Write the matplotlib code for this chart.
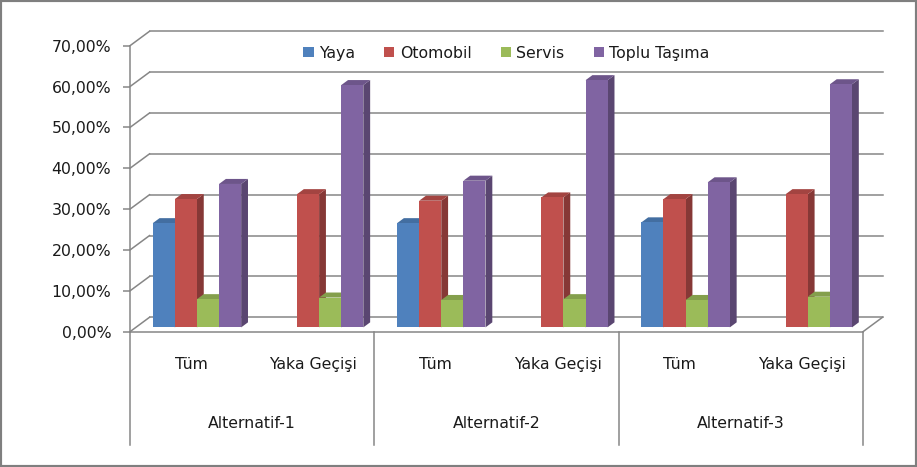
import matplotlib
matplotlib.use("Agg")
import matplotlib.pyplot as plt
from matplotlib.patches import Polygon, Rectangle
from matplotlib.transforms import blended_transform_factory
from matplotlib.colors import to_rgb

plt.rcParams['font.family'] = ['DejaVu Sans']

# ---- data ----
groups = ["Alternatif-1", "Alternatif-2", "Alternatif-3"]
subcats = ["Tüm", "Yaka Geçişi"]
series = ["Yaya", "Otomobil", "Servis", "Toplu Taşıma"]
yaya = [0.255, 0.0, 0.255, 0.0, 0.257, 0.0]
otomobil = [0.314, 0.326, 0.310, 0.318, 0.314, 0.326]
servis = [0.069, 0.073, 0.067, 0.069, 0.067, 0.075]
toplu = [0.351, 0.593, 0.359, 0.605, 0.355, 0.595]
yticks = [0.0, 0.1, 0.2, 0.3, 0.4, 0.5, 0.6, 0.7]
colors = ["#4F81BD", "#C0504D", "#9BBB59", "#8064A2"]

values = [yaya, otomobil, servis, toplu]

W, H = 917, 467
fig = plt.figure(figsize=(W / 100, H / 100), dpi=100)
fig.patch.set_facecolor("white")

# front plane geometry (pixels)
x0_px, x1_px = 130, 863
y0_px, y7_px = 331.7, 45.7
ax = fig.add_axes([x0_px / W, (H - y0_px) / H, (x1_px - x0_px) / W, (y0_px - y7_px) / H])
ax.set_xlim(0, 6)
ax.set_ylim(0, 0.7)
ax.set_facecolor("none")

px_x = 6 / (x1_px - x0_px)        # data units per pixel (x)
px_y = 0.7 / (y0_px - y7_px)      # data units per pixel (y)

# full depth of the box
DX, DY = 19.5 * px_x, 14.4 * px_y
grid_c = "#868686"
glw = 1.1
fs = 11.3
tc = "#1a1a1a"

# back wall gridlines and left wall diagonals
for yv in yticks:
    ax.plot([DX, 6 + DX], [yv + DY, yv + DY], color=grid_c, lw=glw, clip_on=False, zorder=1)
    ax.plot([0, DX], [yv, yv + DY], color=grid_c, lw=glw, clip_on=False, zorder=1)
# floor right diagonal
ax.plot([6, 6 + DX], [0, DY], color=grid_c, lw=glw, clip_on=False, zorder=1)

# bars
f_bar = 0.30           # depth position of bar front
d_bar = 0.35           # depth of bar
bx, by = f_bar * DX, f_bar * DY
ddx, ddy = d_bar * DX, d_bar * DY
bw = 0.181
n_ser = len(series)
z = 3
for ci in range(6):
    for si in range(n_ser):
        h = values[si][ci]
        left = ci + 0.5 - n_ser * bw / 2 + si * bw + bx
        right = left + bw
        base = by
        col = to_rgb(colors[si])
        side_c = tuple(c * 0.70 for c in col)
        top_c = tuple(c * 0.85 for c in col)
        if h > 0:
            side = Polygon([(right, base), (right, base + h), (right + ddx, base + h + ddy),
                            (right + ddx, base + ddy)], closed=True, facecolor=side_c,
                           edgecolor="none", clip_on=False, zorder=z)
            top = Polygon([(left, base + h), (right, base + h), (right + ddx, base + h + ddy),
                           (left + ddx, base + h + ddy)], closed=True, facecolor=top_c,
                          edgecolor="none", clip_on=False, zorder=z)
            ax.add_patch(side)
            ax.add_patch(top)
        ax.bar(left, h, width=bw, bottom=base, align="edge", color=colors[si],
               edgecolor="none", zorder=z + 0.5, clip_on=False,
               label=series[si] if ci == 0 else None)
        z += 1

# axes styling
for s in ["top", "right"]:
    ax.spines[s].set_visible(False)
for s in ["left", "bottom"]:
    ax.spines[s].set_color(grid_c)
    ax.spines[s].set_linewidth(glw)
    ax.spines[s].set_zorder(2)
ax.set_yticks(yticks)
ax.set_yticklabels([("%.2f%%" % (v * 100)).replace(".", ",") for v in yticks])
ax.tick_params(axis="y", length=5, width=glw, color=grid_c, pad=8.5, labelsize=fs,
               labelcolor=tc)
ax.set_xticks([])

# category axis: separators and labels
bt = blended_transform_factory(ax.transData, ax.transAxes)
for xv in [0, 2, 4, 6]:
    ax.plot([xv, xv], [0, -0.396], color=grid_c, lw=glw, transform=bt, clip_on=False)
for ci in range(6):
    ax.text(ci + 0.5, -0.115, subcats[ci % 2], transform=bt, ha="center", va="center",
            fontsize=fs, color=tc)
for gi, g in enumerate(groups):
    ax.text(2 * gi + 1, -0.322, g, transform=bt, ha="center", va="center",
            fontsize=fs, color=tc)

# legend
leg = ax.legend(loc="center", bbox_to_anchor=((506.5 - x0_px) / (x1_px - x0_px), (y0_px - 53) / (y0_px - y7_px)),
                ncol=4, frameon=False, fontsize=fs, handlelength=0.65, handleheight=0.65,
                handletextpad=0.35, columnspacing=1.85, borderpad=0)
for t in leg.get_texts():
    t.set_color(tc)

# outer border
fig.add_artist(Rectangle((0, 0), 1, 1, transform=fig.transFigure, fill=False,
                         edgecolor="#7f7f7f", lw=3.0))

fig.savefig("out.png", dpi=100)
